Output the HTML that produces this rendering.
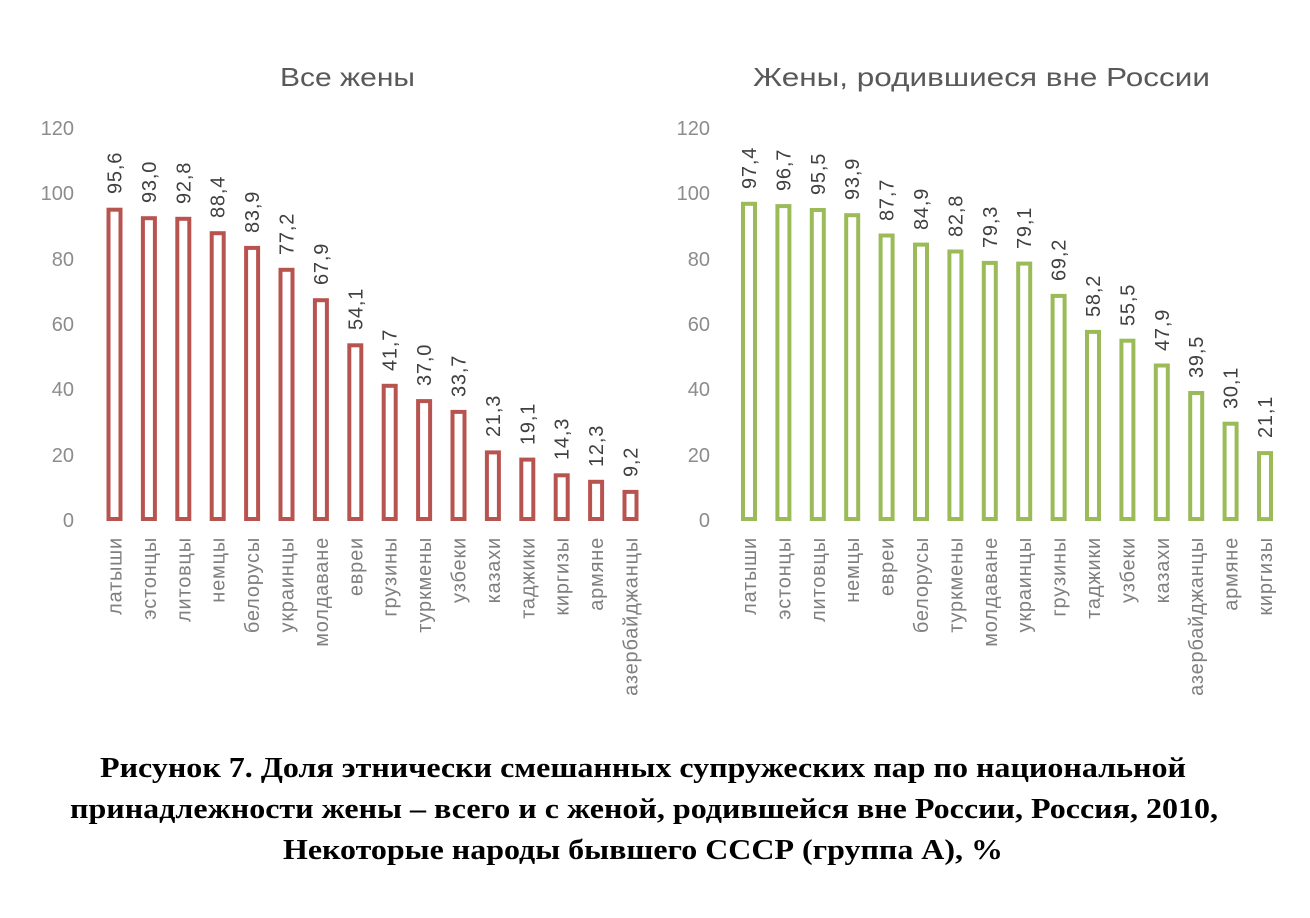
<!DOCTYPE html><html><head><meta charset="utf-8"><style>body{margin:0;background:#fff}svg{display:block}</style></head><body>
<svg width="1310" height="918" xmlns="http://www.w3.org/2000/svg" font-family="Liberation Sans, DejaVu Sans, sans-serif">
<g font-size="26" fill="#595959"><text x="280" y="86" textLength="135" lengthAdjust="spacingAndGlyphs">Все жены</text><text x="753" y="86" textLength="457" lengthAdjust="spacingAndGlyphs">Жены, родившиеся вне России</text></g>
<g font-size="20" fill="#8c8c8c" text-anchor="end">
<text x="74" y="527">0</text><text x="74" y="462">20</text><text x="74" y="396">40</text><text x="74" y="331">60</text><text x="74" y="266">80</text><text x="74" y="200">100</text><text x="74" y="135">120</text>
<text x="710" y="527">0</text><text x="710" y="462">20</text><text x="710" y="396">40</text><text x="710" y="331">60</text><text x="710" y="266">80</text><text x="710" y="200">100</text><text x="710" y="135">120</text>
</g>
<g fill="none" stroke="#b85450" stroke-width="4">
<rect x="108.5" y="209.7" width="12" height="309.3"/><rect x="142.9" y="218.2" width="12" height="300.8"/><rect x="177.3" y="218.8" width="12" height="300.2"/><rect x="211.7" y="233.2" width="12" height="285.8"/><rect x="246.1" y="247.9" width="12" height="271.1"/><rect x="280.5" y="269.8" width="12" height="249.2"/><rect x="314.9" y="300.2" width="12" height="218.8"/><rect x="349.3" y="345.3" width="12" height="173.7"/><rect x="383.7" y="385.8" width="12" height="133.2"/><rect x="418.1" y="401.1" width="12" height="117.9"/><rect x="452.5" y="411.9" width="12" height="107.1"/><rect x="486.9" y="452.4" width="12" height="66.6"/><rect x="521.3" y="459.6" width="12" height="59.4"/><rect x="555.7" y="475.3" width="12" height="43.7"/><rect x="590.1" y="481.8" width="12" height="37.2"/><rect x="624.5" y="491.9" width="12" height="27.1"/>
</g>
<g fill="none" stroke="#9bbb59" stroke-width="4">
<rect x="743" y="203.8" width="12" height="315.2"/><rect x="777.4" y="206.1" width="12" height="312.9"/><rect x="811.8" y="210" width="12" height="309"/><rect x="846.2" y="215.2" width="12" height="303.8"/><rect x="880.6" y="235.5" width="12" height="283.5"/><rect x="915" y="244.6" width="12" height="274.4"/><rect x="949.4" y="251.5" width="12" height="267.5"/><rect x="983.8" y="262.9" width="12" height="256.1"/><rect x="1018.2" y="263.6" width="12" height="255.4"/><rect x="1052.6" y="295.9" width="12" height="223.1"/><rect x="1087" y="331.9" width="12" height="187.1"/><rect x="1121.4" y="340.7" width="12" height="178.3"/><rect x="1155.8" y="365.5" width="12" height="153.5"/><rect x="1190.2" y="393" width="12" height="126"/><rect x="1224.6" y="423.7" width="12" height="95.3"/><rect x="1259" y="453.1" width="12" height="66"/>
</g>
<g font-size="20" fill="#404040" letter-spacing="0.8">
<text transform="translate(121.5,194) rotate(-90)">95,6</text><text transform="translate(155.9,203) rotate(-90)">93,0</text><text transform="translate(190.3,204) rotate(-90)">92,8</text><text transform="translate(224.7,218) rotate(-90)">88,4</text><text transform="translate(259.1,233) rotate(-90)">83,9</text><text transform="translate(293.5,255) rotate(-90)">77,2</text><text transform="translate(327.9,285) rotate(-90)">67,9</text><text transform="translate(362.3,330) rotate(-90)">54,1</text><text transform="translate(396.7,371) rotate(-90)">41,7</text><text transform="translate(431.1,386) rotate(-90)">37,0</text><text transform="translate(465.5,397) rotate(-90)">33,7</text><text transform="translate(499.9,437) rotate(-90)">21,3</text><text transform="translate(534.3,445) rotate(-90)">19,1</text><text transform="translate(568.7,460) rotate(-90)">14,3</text><text transform="translate(603.1,467) rotate(-90)">12,3</text><text transform="translate(637.5,477) rotate(-90)">9,2</text>
<text transform="translate(756,189) rotate(-90)">97,4</text><text transform="translate(790.4,191) rotate(-90)">96,7</text><text transform="translate(824.8,195) rotate(-90)">95,5</text><text transform="translate(859.2,200) rotate(-90)">93,9</text><text transform="translate(893.6,221) rotate(-90)">87,7</text><text transform="translate(928,230) rotate(-90)">84,9</text><text transform="translate(962.4,237) rotate(-90)">82,8</text><text transform="translate(996.8,248) rotate(-90)">79,3</text><text transform="translate(1031.2,249) rotate(-90)">79,1</text><text transform="translate(1065.6,281) rotate(-90)">69,2</text><text transform="translate(1100,317) rotate(-90)">58,2</text><text transform="translate(1134.4,326) rotate(-90)">55,5</text><text transform="translate(1168.8,351) rotate(-90)">47,9</text><text transform="translate(1203.2,378) rotate(-90)">39,5</text><text transform="translate(1237.6,409) rotate(-90)">30,1</text><text transform="translate(1272,438) rotate(-90)">21,1</text>
</g>
<g font-size="20" fill="#7f7f7f" text-anchor="end" letter-spacing="0.8">
<text transform="translate(121.5,537) rotate(-90)">латыши</text><text transform="translate(155.9,537) rotate(-90)">эстонцы</text><text transform="translate(190.3,537) rotate(-90)">литовцы</text><text transform="translate(224.7,537) rotate(-90)">немцы</text><text transform="translate(259.1,537) rotate(-90)">белорусы</text><text transform="translate(293.5,537) rotate(-90)">украинцы</text><text transform="translate(327.9,537) rotate(-90)">молдаване</text><text transform="translate(362.3,537) rotate(-90)">евреи</text><text transform="translate(396.7,537) rotate(-90)">грузины</text><text transform="translate(431.1,537) rotate(-90)">туркмены</text><text transform="translate(465.5,537) rotate(-90)">узбеки</text><text transform="translate(499.9,537) rotate(-90)">казахи</text><text transform="translate(534.3,537) rotate(-90)">таджики</text><text transform="translate(568.7,537) rotate(-90)">киргизы</text><text transform="translate(603.1,537) rotate(-90)">армяне</text><text transform="translate(637.5,537) rotate(-90)">азербайджанцы</text>
<text transform="translate(756,537) rotate(-90)">латыши</text><text transform="translate(790.4,537) rotate(-90)">эстонцы</text><text transform="translate(824.8,537) rotate(-90)">литовцы</text><text transform="translate(859.2,537) rotate(-90)">немцы</text><text transform="translate(893.6,537) rotate(-90)">евреи</text><text transform="translate(928,537) rotate(-90)">белорусы</text><text transform="translate(962.4,537) rotate(-90)">туркмены</text><text transform="translate(996.8,537) rotate(-90)">молдаване</text><text transform="translate(1031.2,537) rotate(-90)">украинцы</text><text transform="translate(1065.6,537) rotate(-90)">грузины</text><text transform="translate(1100,537) rotate(-90)">таджики</text><text transform="translate(1134.4,537) rotate(-90)">узбеки</text><text transform="translate(1168.8,537) rotate(-90)">казахи</text><text transform="translate(1203.2,537) rotate(-90)">азербайджанцы</text><text transform="translate(1237.6,537) rotate(-90)">армяне</text><text transform="translate(1272,537) rotate(-90)">киргизы</text>
</g>
<g font-family="Liberation Serif, serif" font-weight="bold" font-size="29" fill="#000">
<text x="100" y="777" textLength="1086" lengthAdjust="spacingAndGlyphs">Рисунок 7. Доля этнически смешанных супружеских пар по национальной</text>
<text x="70" y="818" textLength="1148" lengthAdjust="spacingAndGlyphs">принадлежности жены – всего и с женой, родившейся вне России, Россия, 2010,</text>
<text x="283" y="859" textLength="720" lengthAdjust="spacingAndGlyphs">Некоторые народы бывшего СССР (группа А), %</text>
</g>
</svg>
</body></html>
